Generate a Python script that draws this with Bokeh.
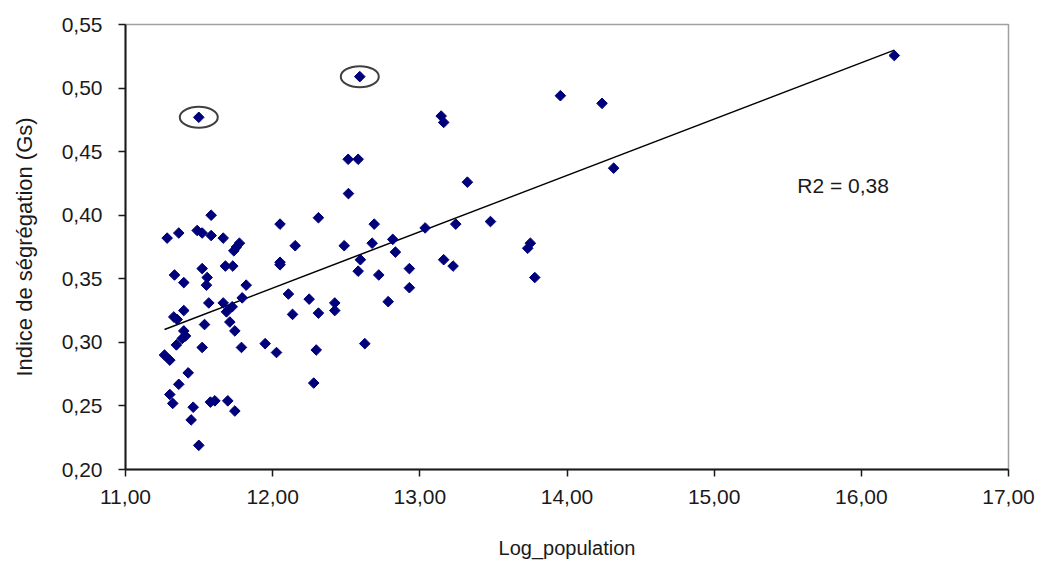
import numpy as np
from bokeh.plotting import figure
from bokeh.models import FixedTicker, Label
from bokeh.embed import file_html
from bokeh.resources import INLINE

# Data (Log_population, Indice de ségrégation)
log_pop = [
    11.582, 11.283, 11.362, 11.487, 11.521, 11.582, 11.664, 11.774, 11.754, 11.736,
    12.050, 11.333, 11.396, 11.521, 11.555, 11.550, 11.679, 11.729, 11.820, 12.050,
    12.050, 11.566, 11.664, 11.725, 11.793, 11.686, 11.396, 11.328, 11.351, 11.537,
    11.709, 11.743, 11.396, 11.408, 11.385, 11.346, 11.521, 11.788, 11.949, 12.026,
    11.265, 11.301, 11.426, 11.362, 11.301, 11.321, 11.460, 11.446, 11.577, 11.607,
    11.695, 11.743, 11.498,
    12.513, 12.581, 12.515, 13.323, 12.311, 12.690, 13.036, 13.244, 13.480, 12.153,
    12.486, 12.676, 12.816, 12.834, 12.596, 12.581, 12.721, 12.929, 12.929, 13.162,
    13.226, 12.107, 12.248, 12.422, 12.422, 12.135, 12.311, 12.785, 12.296, 12.626,
    12.279,
    13.955, 14.238, 13.145, 13.162, 14.317, 13.751, 13.733, 13.781,
    16.224, 11.498, 12.592,
]
segregation = [
    0.400, 0.382, 0.386, 0.388, 0.386, 0.384, 0.382, 0.378, 0.375, 0.372,
    0.393, 0.353, 0.347, 0.358, 0.351, 0.345, 0.360, 0.360, 0.345, 0.363,
    0.361, 0.331, 0.331, 0.328, 0.335, 0.324, 0.325, 0.320, 0.318, 0.314,
    0.316, 0.309, 0.309, 0.305, 0.303, 0.298, 0.296, 0.296, 0.299, 0.292,
    0.290, 0.286, 0.276, 0.267, 0.259, 0.252, 0.249, 0.239, 0.253, 0.254,
    0.254, 0.246, 0.219,
    0.444, 0.444, 0.417, 0.426, 0.398, 0.393, 0.390, 0.393, 0.395, 0.376,
    0.376, 0.378, 0.381, 0.371, 0.365, 0.356, 0.353, 0.358, 0.343, 0.365,
    0.360, 0.338, 0.334, 0.331, 0.325, 0.322, 0.323, 0.332, 0.294, 0.299,
    0.268,
    0.494, 0.488, 0.478, 0.473, 0.437, 0.378, 0.374, 0.351,
    0.5256, 0.477, 0.509,
]
# circled (highlighted) points
highlight_x = [11.498, 12.592]
highlight_y = [0.477, 0.509]

x_ticks = [11, 12, 13, 14, 15, 16, 17]
x_tick_labels = ["11,00", "12,00", "13,00", "14,00", "15,00", "16,00", "17,00"]
y_ticks = [0.20, 0.25, 0.30, 0.35, 0.40, 0.45, 0.50, 0.55]
y_tick_labels = ["0,20", "0,25", "0,30", "0,35", "0,40", "0,45", "0,50", "0,55"]
r2_text = "R2 = 0,38"

FONT = "Liberation Sans"

p = figure(width=1045, height=570, output_backend="svg", toolbar_location=None,
           x_range=(11, 17), y_range=(0.20, 0.55),
           min_border_left=125, min_border_right=37, min_border_top=24, min_border_bottom=101)
p.grid.visible = False
p.outline_line_color = "#a0a0a0"
p.outline_line_width = 1.5
p.background_fill_color = "white"
p.border_fill_color = "white"

for ax in (p.xaxis[0], p.yaxis[0]):
    ax.axis_line_color = "#1a1a1a"
    ax.axis_line_width = 2
    ax.major_tick_line_color = "#1a1a1a"
    ax.major_tick_line_width = 1.5
    ax.major_tick_out = 7
    ax.major_tick_in = 0
    ax.minor_tick_line_color = None
    ax.major_label_text_font = FONT
    ax.major_label_text_font_size = "21px"
    ax.major_label_text_color = "#1a1a1a"
    ax.axis_label_text_font = FONT
    ax.axis_label_text_font_style = "normal"
    ax.axis_label_text_color = "#1a1a1a"

p.xaxis.axis_label_text_font_size = "20px"
p.yaxis.axis_label_text_font_size = "22px"

p.xaxis.ticker = FixedTicker(ticks=x_ticks)
p.xaxis.major_label_overrides = {t: l for t, l in zip(x_ticks, x_tick_labels)}
p.yaxis.ticker = FixedTicker(ticks=y_ticks)
p.yaxis.major_label_overrides = {t: l for t, l in zip(y_ticks, y_tick_labels)}
p.xaxis.axis_label = "Log_population"
p.yaxis.axis_label = "Indice de ségrégation (Gs)"
p.xaxis.major_label_standoff = 13
p.yaxis.major_label_standoff = 16
p.xaxis.axis_label_standoff = 30
p.yaxis.axis_label_standoff = 22

# trend line (least squares)
xs = np.array(log_pop)
ys = np.array(segregation)
slope, intercept = np.polyfit(xs, ys, 1)
line_x = [xs.min(), xs.max()]
line_y = [intercept + slope * v for v in line_x]
p.line(line_x, line_y, line_color="black", line_width=1.5)

p.scatter(log_pop, segregation, marker="square", angle=np.pi / 4, size=7.5,
          fill_color="#00007a", line_color="#00007a", line_width=1)

p.ellipse(x=highlight_x, y=highlight_y, width=38, height=21,
          width_units="screen", height_units="screen",
          fill_color=None, line_color="#404040", line_width=2)

p.add_layout(Label(x=15.565, y=0.4234, text=r2_text, text_font=FONT,
                   text_font_size="21px", text_color="#1a1a1a", text_baseline="middle"))

open("out.html", "w").write(file_html(p, INLINE))
